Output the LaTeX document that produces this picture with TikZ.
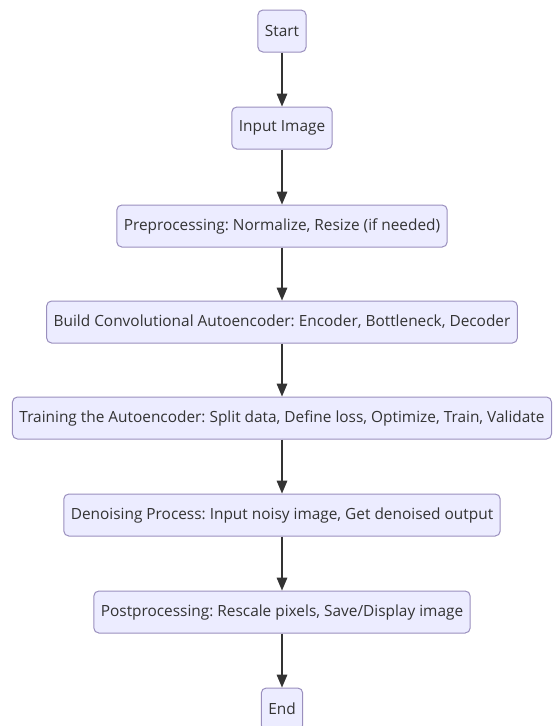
\documentclass[tikz,border=0pt]{standalone}
\usepackage{fontspec}
\setmainfont{Open Sans}
\usetikzlibrary{arrows}
\usetikzlibrary{graphs}
\definecolor{boxfill}{HTML}{ECECFF}
\definecolor{boxline}{HTML}{9A8FBE}
\definecolor{ink}{HTML}{333333}
\frenchspacing
\tikzset{
  stepbox/.style={draw=boxline, fill=boxfill, rounded corners=5pt, line width=1pt,
    minimum height=42pt, inner xsep=7pt, text=ink, font=\fontsize{15.4}{17}\selectfont},
}

\begin{document}
\begin{tikzpicture}[x=1pt, y=-1pt, >=triangle 45]
\useasboundingbox [fill=white] (0,0) rectangle (552,726);
\node (start) [stepbox] at (282,31) {Start};
\node (input) [stepbox] at (282,128) {Input Image};
\node (prep) [stepbox] at (282,226) {Preprocessing: Normalize, Resize (if needed)};
\node (build) [stepbox] at (282,322) {Build Convolutional Autoencoder: Encoder, Bottleneck, Decoder};
\node (train) [stepbox] at (282,418) {Training the Autoencoder: Split data, Define loss, Optimize, Train, Validate};
\node (denoise) [stepbox] at (282,515) {Denoising Process: Input noisy image, Get denoised output};
\node (post) [stepbox] at (282,612) {Postprocessing: Rescale pixels, Save/Display image};
\node (end) [stepbox] at (282,709) {End};
\graph [edges={draw=ink, line width=2pt}] { (start) -> (input) -> (prep) -> (build) -> (train) -> (denoise) -> (post) -> (end) };
\end{tikzpicture}
\end{document}
